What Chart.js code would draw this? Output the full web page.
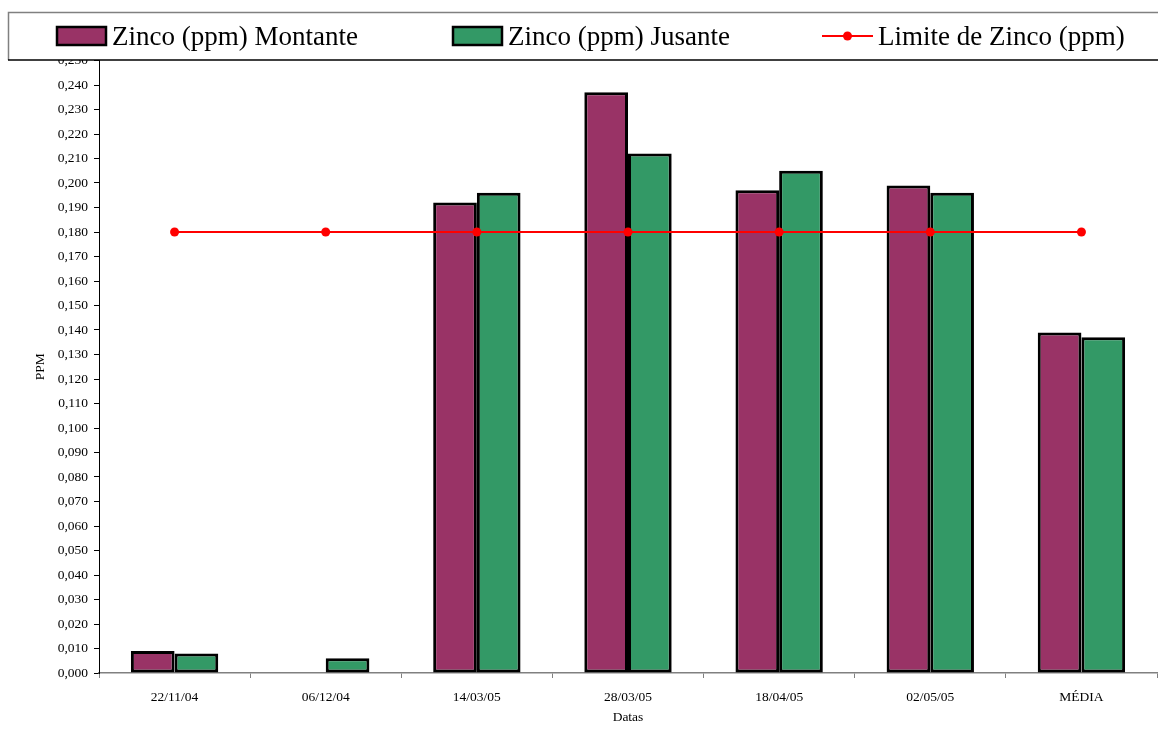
<!DOCTYPE html>
<html>
<head>
<meta charset="utf-8">
<script src="https://cdn.jsdelivr.net/npm/chart.js@4/dist/chart.umd.min.js"></script>
<style>
  html, body { margin: 0; padding: 0; background: #ffffff; }
  #wrap { width: 1158px; height: 729px; }
</style>
</head>
<body>
<div id="wrap"><canvas id="chart" width="1158" height="729"></canvas></div>
<script>
// Sampling dates and the average column
const categories = ['22/11/04', '06/12/04', '14/03/05', '28/03/05', '18/04/05', '02/05/05', 'MÉDIA'];

// Zinc concentration (ppm) upstream and downstream
const zincoMontante = [0.009, null, 0.192, 0.237, 0.197, 0.199, 0.139];
const zincoJusante  = [0.008, 0.006, 0.196, 0.212, 0.205, 0.196, 0.137];

// Legal limit for zinc (ppm)
const limiteZinco = [0.180, 0.180, 0.180, 0.180, 0.180, 0.180, 0.180];

// Series names
const seriesNames = ['Zinco (ppm) Montante', 'Zinco (ppm) Jusante', 'Limite de Zinco (ppm)'];

// Y axis range
const yMin = 0;
const yMax = 0.25;
const yStep = 0.01;

const SERIF = '"Liberation Serif", "Times New Roman", serif';
const PURPLE = '#993366';
const GREEN = '#339966';
const RED = '#ff0000';

// Boxed legend drawn across the top, over the plot
const boxedLegend = {
  id: 'boxedLegend',
  afterDraw(chart) {
    const ctx = chart.ctx;
    ctx.save();
    ctx.fillStyle = '#ffffff';
    ctx.fillRect(8, 12, 1150, 48);
    ctx.lineWidth = 1.5;
    ctx.strokeStyle = '#808080';
    ctx.beginPath();
    ctx.moveTo(8.5, 60);
    ctx.lineTo(8.5, 12.5);
    ctx.lineTo(1158, 12.5);
    ctx.stroke();
    ctx.strokeStyle = '#000000';
    ctx.beginPath();
    ctx.moveTo(8, 60);
    ctx.lineTo(1158, 60);
    ctx.stroke();

    ctx.font = '27px ' + SERIF;
    ctx.fillStyle = '#000000';
    ctx.textBaseline = 'alphabetic';
    ctx.textAlign = 'left';

    // bar swatches
    const swatches = [[57, PURPLE, 0], [453, GREEN, 1]];
    swatches.forEach(([x, color, i]) => {
      ctx.fillStyle = color;
      ctx.fillRect(x, 27, 49, 18);
      ctx.lineWidth = 2.5;
      ctx.strokeStyle = '#000000';
      ctx.strokeRect(x, 27, 49, 18);
      ctx.fillStyle = '#000000';
      ctx.fillText(seriesNames[i], x + 55, 45);
    });

    // line swatch
    ctx.strokeStyle = RED;
    ctx.lineWidth = 2;
    ctx.beginPath();
    ctx.moveTo(822, 36);
    ctx.lineTo(873, 36);
    ctx.stroke();
    ctx.fillStyle = RED;
    ctx.beginPath();
    ctx.arc(847.5, 36, 4.5, 0, Math.PI * 2);
    ctx.fill();
    ctx.fillStyle = '#000000';
    ctx.fillText(seriesNames[2], 878, 45);
    ctx.restore();
  }
};

new Chart(document.getElementById('chart'), {
  type: 'bar',
  data: {
    labels: categories,
    datasets: [
      {
        type: 'line',
        label: seriesNames[2],
        data: limiteZinco,
        borderColor: RED,
        backgroundColor: RED,
        borderWidth: 2,
        pointRadius: 4.5,
        pointBackgroundColor: RED,
        pointBorderWidth: 0,
        tension: 0,
        order: 0
      },
      {
        label: seriesNames[0],
        data: zincoMontante,
        backgroundColor: PURPLE,
        borderColor: '#000000',
        borderWidth: 3,
        borderSkipped: false,
        barPercentage: 1,
        categoryPercentage: 0.578,
        order: 1
      },
      {
        label: seriesNames[1],
        data: zincoJusante,
        backgroundColor: GREEN,
        borderColor: '#000000',
        borderWidth: 3,
        borderSkipped: false,
        barPercentage: 1,
        categoryPercentage: 0.578,
        order: 1
      }
    ]
  },
  options: {
    responsive: false,
    animation: false,
    layout: { autoPadding: false, padding: { top: 60.5, right: 1, bottom: 0, left: 0 } },
    plugins: {
      legend: { display: false },
      tooltip: { enabled: false }
    },
    scales: {
      x: {
        offset: true,
        grid: {
          display: true,
          offset: true,
          drawOnChartArea: false,
          drawTicks: true,
          tickLength: 5,
          color: '#808080',
          lineWidth: 1
        },
        border: { display: true, color: '#808080', width: 1.5 },
        ticks: {
          color: '#000000',
          font: { family: SERIF, size: 13.5 },
          padding: 11,
          maxRotation: 0,
          autoSkip: false
        },
        title: {
          display: true,
          text: 'Datas',
          color: '#000000',
          font: { family: SERIF, size: 13.5 },
          padding: { top: 0, bottom: 3 }
        },
        afterFit(scale) {
          scale.height = 56;
          scale.paddingLeft = 0;
          scale.paddingRight = 0;
        }
      },
      y: {
        min: yMin,
        max: yMax,
        grid: {
          display: true,
          drawOnChartArea: false,
          drawTicks: true,
          tickLength: 5,
          color: '#000000',
          lineWidth: 1
        },
        border: { display: true, color: '#000000', width: 1 },
        ticks: {
          stepSize: yStep,
          color: '#000000',
          font: { family: SERIF, size: 13.5 },
          padding: 6,
          callback: (v) => v.toFixed(3).replace('.', ',')
        },
        title: {
          display: true,
          text: 'PPM',
          color: '#000000',
          font: { family: SERIF, size: 13.5 },
          padding: { top: 32, bottom: 0 }
        },
        afterFit(scale) { scale.width = 99; }
      }
    }
  },
  plugins: [boxedLegend]
});
</script>
</body>
</html>
